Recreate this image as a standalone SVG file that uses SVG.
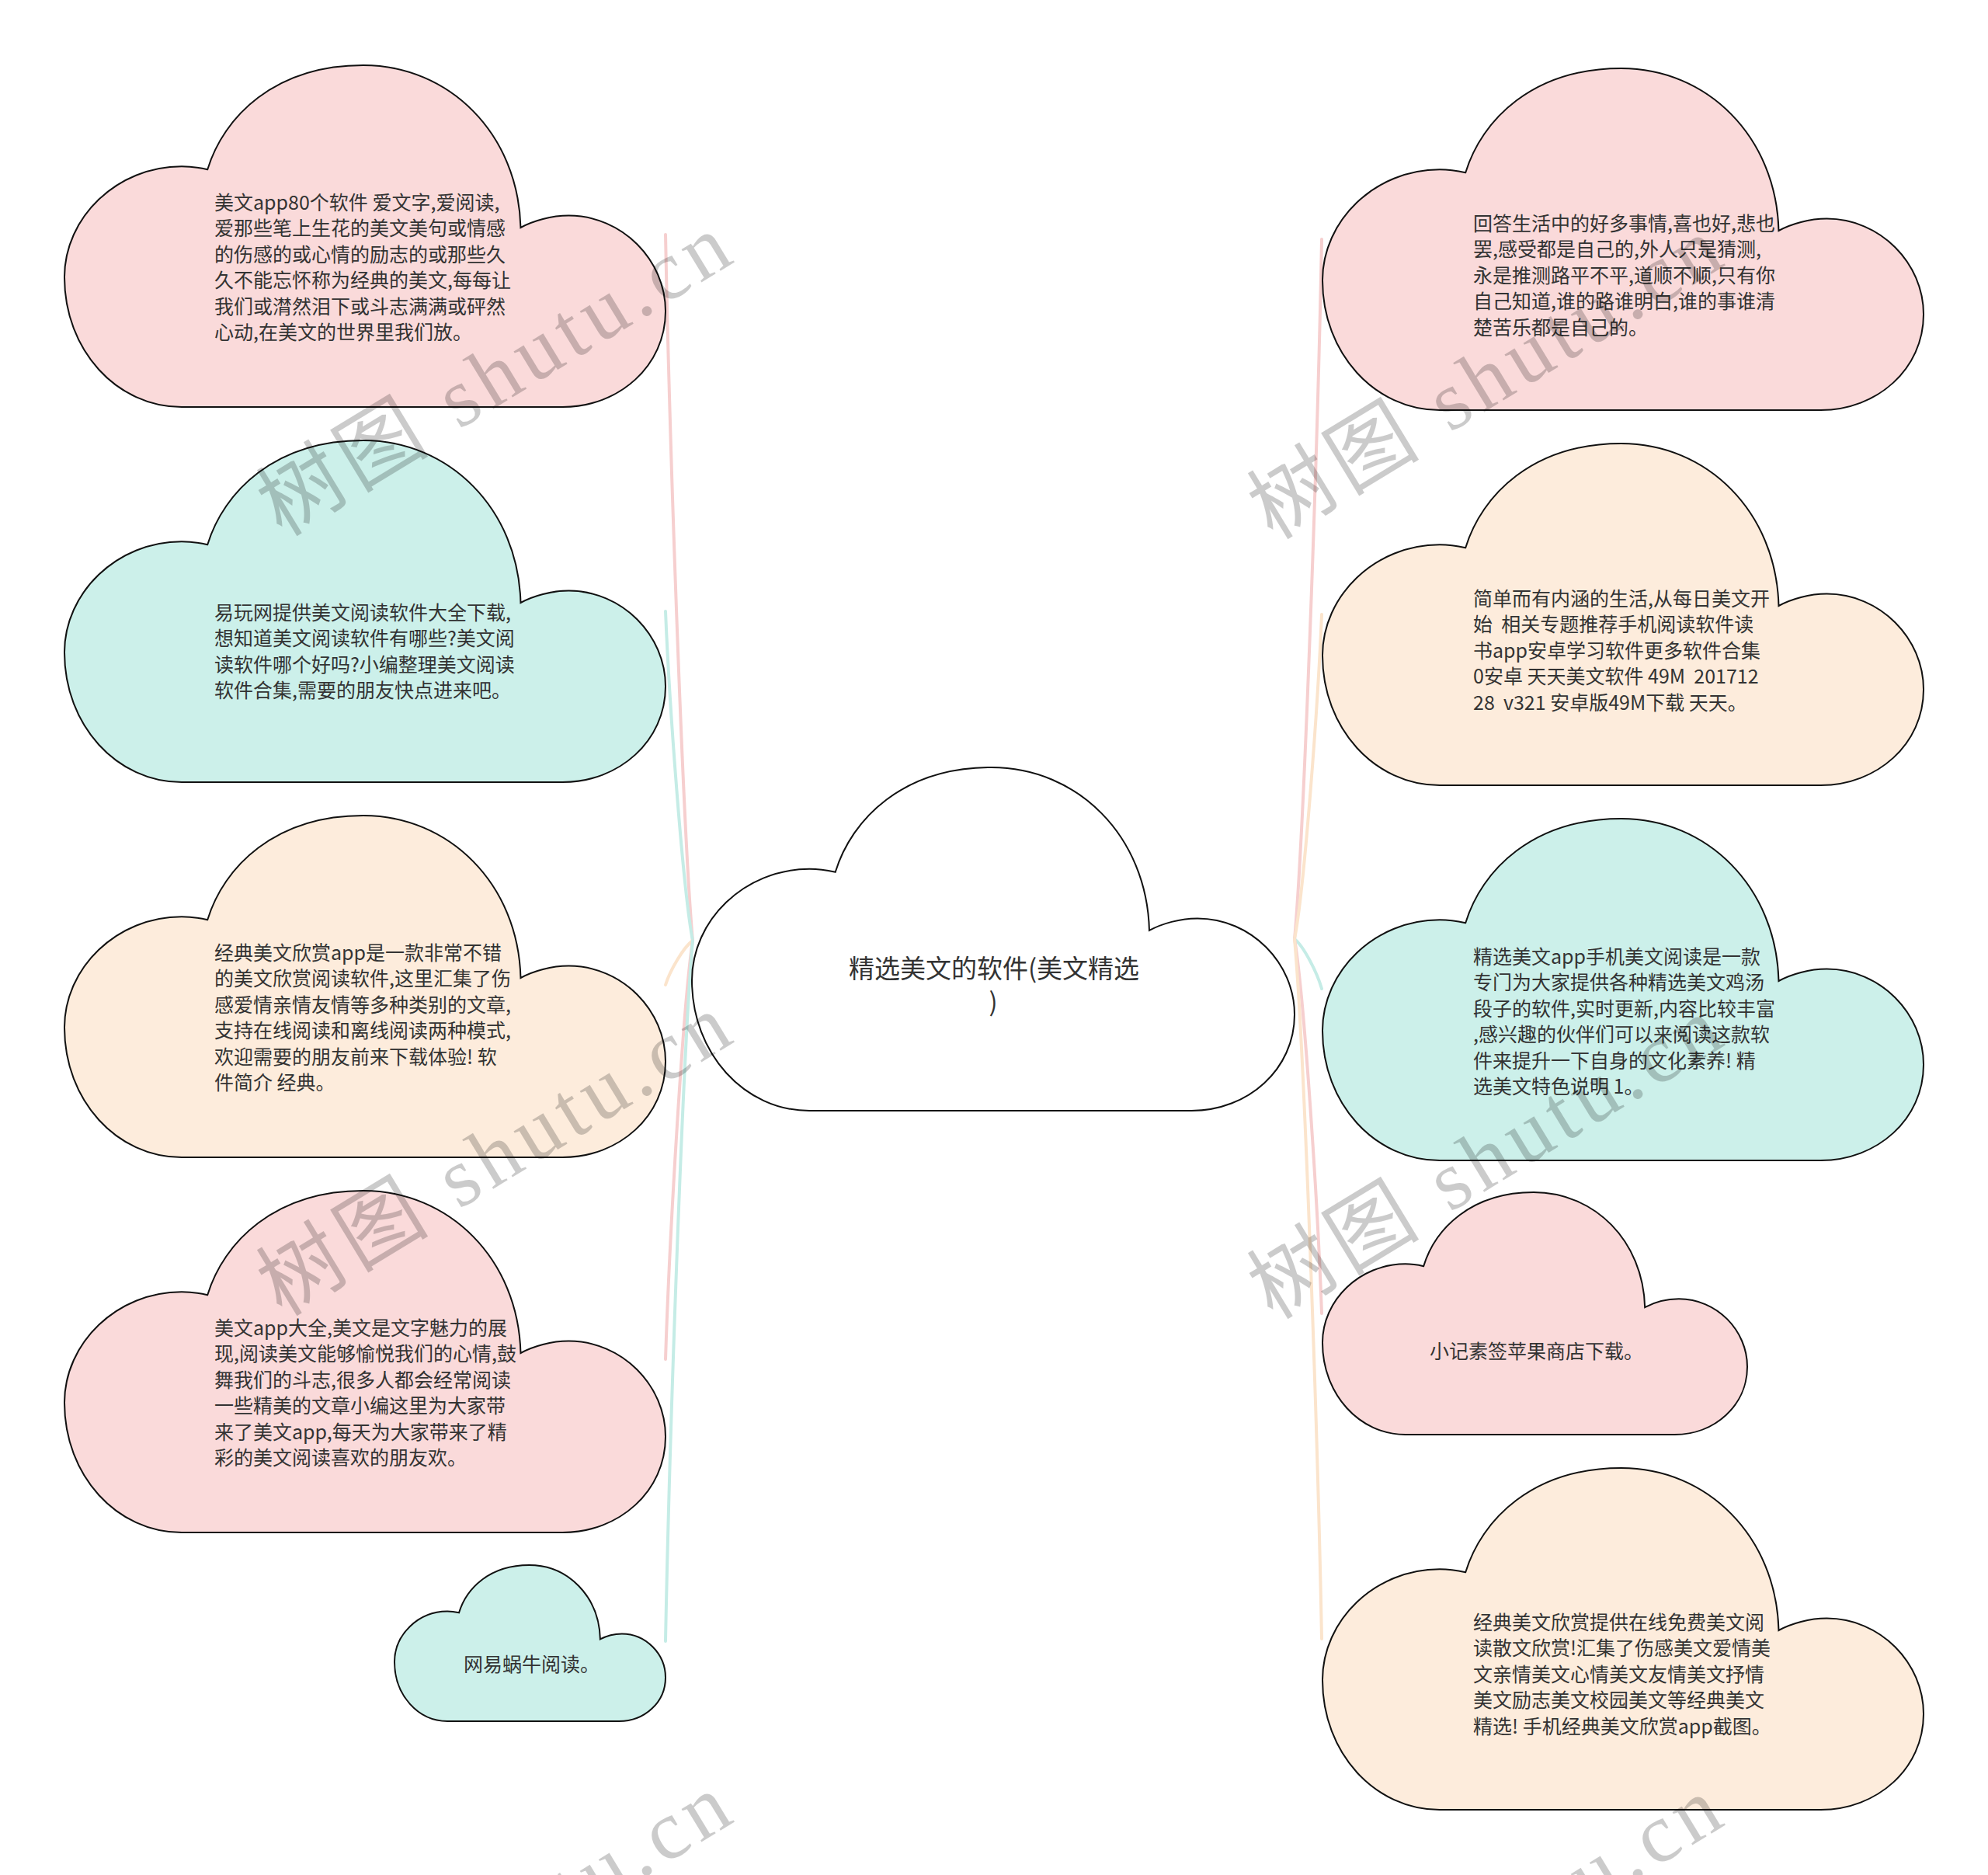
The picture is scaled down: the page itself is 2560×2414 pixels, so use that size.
<svg xmlns="http://www.w3.org/2000/svg" xmlns:xlink="http://www.w3.org/1999/xlink" width="2560" height="2414" viewBox="0 0 2560 2414">
<style>
.cl{stroke:#111;stroke-width:2}
.pk{fill:#fadada}
.tl{fill:#ccf0ea}
.pc{fill:#fdecdc}
.wh{fill:#ffffff}
.t{font-family:"Noto Sans CJK SC","Noto Sans",sans-serif;font-size:25px;fill:#333;white-space:pre}
.ct{font-family:"Noto Sans CJK SC","Noto Sans",sans-serif;font-size:33px;fill:#333;text-anchor:middle}
.e{fill:none;stroke-width:4;stroke-linecap:round}
.epk{stroke:#f6cfcf}
.etl{stroke:#c5ece6}
.epc{stroke:#fbe4cc}
.wm{font-family:"Liberation Serif","Noto Sans CJK SC",serif;font-size:108px;fill:#000;opacity:0.2}
</style>
<defs>
<path id="cloud" vector-effect="non-scaling-stroke" d="M19.5 100 C8.73 100 0 83.4 0 62 C0 44.6 8.73 29.6 19.5 29.6 C21 29.6 22.5 30 23.8 30.5 C26.5 15 35 0 49.7 0 C64 0 75.5 20 75.9 47.5 C78 45.5 81 44 83.9 44 C92.8 44 100 57 100 72 C100 87.9 92.3 100 82.9 100 Z"/>
</defs>
<rect width="2560" height="2414" fill="#ffffff"/>
<g id="connectors">
<path class="e epk" d="M892 1211 C879.75 1074.65 862.25 574.7 857 302"/>
<path class="e etl" d="M892 1211 C879.75 1147.4 862.25 914.2 857 787"/>
<path class="e epc" d="M892 1211 C879.75 1219.6 862.25 1250.9 857 1268"/>
<path class="e epk" d="M892 1211 C879.75 1291.9 862.25 1588.3 857 1750"/>
<path class="e etl" d="M892 1211 C879.75 1346.3 862.25 1842.4 857 2113"/>
<path class="e epk" d="M1667 1209 C1679.25 1073.85 1696.75 578.3 1702 308"/>
<path class="e epc" d="M1667 1209 C1679.25 1146.3 1696.75 916.4 1702 791"/>
<path class="e etl" d="M1667 1209 C1679.25 1218.6 1696.75 1253.8 1702 1273"/>
<path class="e epk" d="M1667 1209 C1679.25 1281.3 1696.75 1546.4 1702 1691"/>
<path class="e epc" d="M1667 1209 C1679.25 1344.2 1696.75 1839.7 1702 2110"/>
</g>
<g id="center">
<use xlink:href="#cloud" href="#cloud" class="cl wh" transform="translate(891,988) scale(7.76,4.42)"/>
<text class="ct"><tspan x="1280" y="1259">精选美文的软件(美文精选</tspan><tspan x="1279" y="1302">)</tspan></text>
</g>
<g id="node-l1">
<use xlink:href="#cloud" href="#cloud" class="cl pk" transform="translate(83,84) scale(7.74,4.4)"/>
<text class="t"><tspan x="276" y="270">美文app80个软件 爱文字,爱阅读,</tspan><tspan x="276" dy="33.4">爱那些笔上生花的美文美句或情感</tspan><tspan x="276" dy="33.4">的伤感的或心情的励志的或那些久</tspan><tspan x="276" dy="33.4">久不能忘怀称为经典的美文,每每让</tspan><tspan x="276" dy="33.4">我们或潸然泪下或斗志满满或砰然</tspan><tspan x="276" dy="33.4">心动,在美文的世界里我们放。</tspan></text>
</g>
<g id="node-l2">
<use xlink:href="#cloud" href="#cloud" class="cl tl" transform="translate(83,567) scale(7.74,4.4)"/>
<text class="t"><tspan x="276" y="798">易玩网提供美文阅读软件大全下载,</tspan><tspan x="276" dy="33.4">想知道美文阅读软件有哪些?美文阅</tspan><tspan x="276" dy="33.4">读软件哪个好吗?小编整理美文阅读</tspan><tspan x="276" dy="33.4">软件合集,需要的朋友快点进来吧。</tspan></text>
</g>
<g id="node-l3">
<use xlink:href="#cloud" href="#cloud" class="cl pc" transform="translate(83,1050) scale(7.74,4.4)"/>
<text class="t"><tspan x="276" y="1236">经典美文欣赏app是一款非常不错</tspan><tspan x="276" dy="33.4">的美文欣赏阅读软件,这里汇集了伤</tspan><tspan x="276" dy="33.4">感爱情亲情友情等多种类别的文章,</tspan><tspan x="276" dy="33.4">支持在线阅读和离线阅读两种模式,</tspan><tspan x="276" dy="33.4">欢迎需要的朋友前来下载体验! 软</tspan><tspan x="276" dy="33.4">件简介 经典。</tspan></text>
</g>
<g id="node-l4">
<use xlink:href="#cloud" href="#cloud" class="cl pk" transform="translate(83,1533) scale(7.74,4.4)"/>
<text class="t"><tspan x="276" y="1719">美文app大全,美文是文字魅力的展</tspan><tspan x="276" dy="33.4">现,阅读美文能够愉悦我们的心情,鼓</tspan><tspan x="276" dy="33.4">舞我们的斗志,很多人都会经常阅读</tspan><tspan x="276" dy="33.4">一些精美的文章小编这里为大家带</tspan><tspan x="276" dy="33.4">来了美文app,每天为大家带来了精</tspan><tspan x="276" dy="33.4">彩的美文阅读喜欢的朋友欢。</tspan></text>
</g>
<g id="node-l5">
<use xlink:href="#cloud" href="#cloud" class="cl tl" transform="translate(508,2015) scale(3.49,2.01)"/>
<text class="t" x="597" y="2152">网易蜗牛阅读。</text>
</g>
<g id="node-r1">
<use xlink:href="#cloud" href="#cloud" class="cl pk" transform="translate(1703,88) scale(7.74,4.4)"/>
<text class="t"><tspan x="1897" y="297">回答生活中的好多事情,喜也好,悲也</tspan><tspan x="1897" dy="33.4">罢,感受都是自己的,外人只是猜测,</tspan><tspan x="1897" dy="33.4">永是推测路平不平,道顺不顺,只有你</tspan><tspan x="1897" dy="33.4">自己知道,谁的路谁明白,谁的事谁清</tspan><tspan x="1897" dy="33.4">楚苦乐都是自己的。</tspan></text>
</g>
<g id="node-r2">
<use xlink:href="#cloud" href="#cloud" class="cl pc" transform="translate(1703,571) scale(7.74,4.4)"/>
<text class="t"><tspan x="1897" y="780">简单而有内涵的生活,从每日美文开</tspan><tspan x="1897" dy="33.4">始  相关专题推荐手机阅读软件读</tspan><tspan x="1897" dy="33.4">书app安卓学习软件更多软件合集</tspan><tspan x="1897" dy="33.4">0安卓 天天美文软件 49M  201712</tspan><tspan x="1897" dy="33.4">28  v321 安卓版49M下载 天天。</tspan></text>
</g>
<g id="node-r3">
<use xlink:href="#cloud" href="#cloud" class="cl tl" transform="translate(1703,1054) scale(7.74,4.4)"/>
<text class="t"><tspan x="1897" y="1241">精选美文app手机美文阅读是一款</tspan><tspan x="1897" dy="33.4">专门为大家提供各种精选美文鸡汤</tspan><tspan x="1897" dy="33.4">段子的软件,实时更新,内容比较丰富</tspan><tspan x="1897" dy="33.4">,感兴趣的伙伴们可以来阅读这款软</tspan><tspan x="1897" dy="33.4">件来提升一下自身的文化素养! 精</tspan><tspan x="1897" dy="33.4">选美文特色说明 1。</tspan></text>
</g>
<g id="node-r4">
<use xlink:href="#cloud" href="#cloud" class="cl pk" transform="translate(1703,1535) scale(5.47,3.12)"/>
<text class="t" x="1841" y="1749">小记素签苹果商店下载。</text>
</g>
<g id="node-r5">
<use xlink:href="#cloud" href="#cloud" class="cl pc" transform="translate(1703,1890) scale(7.74,4.4)"/>
<text class="t"><tspan x="1897" y="2098">经典美文欣赏提供在线免费美文阅</tspan><tspan x="1897" dy="33.4">读散文欣赏!汇集了伤感美文爱情美</tspan><tspan x="1897" dy="33.4">文亲情美文心情美文友情美文抒情</tspan><tspan x="1897" dy="33.4">美文励志美文校园美文等经典美文</tspan><tspan x="1897" dy="33.4">精选! 手机经典美文欣赏app截图。</tspan></text>
</g>
<g id="watermarks">
<text class="wm" transform="translate(363,692) rotate(-31.3)" textLength="684" lengthAdjust="spacing">树图 shutu.cn</text>
<text class="wm" transform="translate(1639,696) rotate(-31.3)" textLength="684" lengthAdjust="spacing">树图 shutu.cn</text>
<text class="wm" transform="translate(363,1696) rotate(-31.3)" textLength="684" lengthAdjust="spacing">树图 shutu.cn</text>
<text class="wm" transform="translate(1639,1700) rotate(-31.3)" textLength="684" lengthAdjust="spacing">树图 shutu.cn</text>
<text class="wm" transform="translate(363,2700) rotate(-31.3)" textLength="684" lengthAdjust="spacing">树图 shutu.cn</text>
<text class="wm" transform="translate(1639,2704) rotate(-31.3)" textLength="684" lengthAdjust="spacing">树图 shutu.cn</text>
</g>
</svg>
